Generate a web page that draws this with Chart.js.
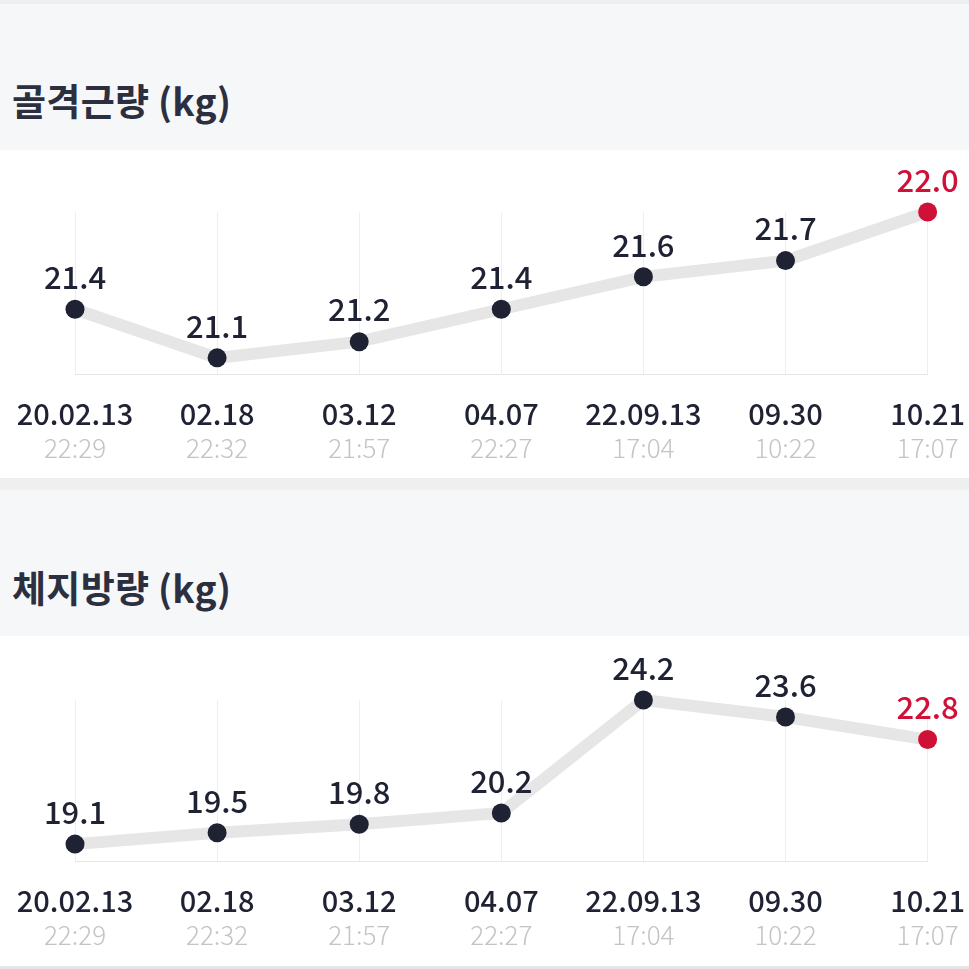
<!DOCTYPE html>
<html>
<head>
<meta charset="utf-8">
<script src="https://cdn.jsdelivr.net/npm/chart.js"></script>
<style>
  body { margin: 0; background: #fff; font-family: "Noto Sans CJK KR", sans-serif; }
  .band { position: absolute; left: 0; width: 969px; background: #f6f7f8; }
  .band h2 { position: absolute; left: 12px; margin: 0; font-size: 37px; font-weight: 700; color: #2b2f40; line-height: 1; letter-spacing: 0.3px; }
  .box { position: absolute; left: 0; width: 969px; background: #fff; }
</style>
</head>
<body>
<div class="band" style="top:0;height:150px;border-top:4px solid #eeeeee;box-sizing:border-box;">
  <h2 id="title1" style="top:78px;"></h2>
</div>
<div class="box" style="top:150px;height:328px;"><canvas id="muscleChart"></canvas></div>
<div class="band" style="top:478px;height:158px;border-top:12px solid #efefef;box-sizing:border-box;">
  <h2 id="title2" style="top:79px;"></h2>
</div>
<div class="box" style="top:636px;height:329px;"><canvas id="fatChart"></canvas></div>
<div style="position:absolute;left:0;top:966px;width:969px;height:3px;background:#e6e6e6;"></div>

<script>
// titles
var muscleTitle = "골격근량 (kg)";
var fatTitle = "체지방량 (kg)";

// x-axis labels: date on top, time underneath
var dates = ["20.02.13", "02.18", "03.12", "04.07", "22.09.13", "09.30", "10.21"];
var times = ["22:29", "22:32", "21:57", "22:27", "17:04", "10:22", "17:07"];

// measurements
var muscle = [21.4, 21.1, 21.2, 21.4, 21.6, 21.7, 22.0];
var fat = [19.1, 19.5, 19.8, 20.2, 24.2, 23.6, 22.8];

var dark = "#1f2233";
var red = "#cf1138";

document.getElementById("title1").textContent = muscleTitle;
document.getElementById("title2").textContent = fatTitle;

// value above each point + time under each date
var labelPlugin = {
  id: "pointLabels",
  afterDatasetsDraw: function(chart) {
    var ctx = chart.ctx;
    var meta = chart.getDatasetMeta(0);
    var values = chart.data.datasets[0].data;
    ctx.save();
    ctx.textAlign = "center";
    ctx.textBaseline = "middle";
    ctx.font = '500 31px "Noto Sans CJK KR"';
    meta.data.forEach(function(pt, i) {
      ctx.fillStyle = i === values.length - 1 ? red : dark;
      ctx.fillText(values[i].toFixed(1), pt.x, pt.y - 32);
    });
    var xs = chart.scales.x;
    ctx.font = '300 26px "Noto Sans CJK KR"';
    ctx.fillStyle = "#c4c4c4";
    times.forEach(function(t, i) {
      ctx.fillText(t, xs.getPixelForTick(i), chart.chartArea.bottom + 74);
    });
    ctx.restore();
  }
};

function makeChart(id, values, yMin, yMax, topPad) {
  var colors = values.map(function(v, i) { return i === values.length - 1 ? red : dark; });
  return new Chart(document.getElementById(id), {
    type: "line",
    data: {
      labels: dates,
      datasets: [{
        data: values,
        borderColor: "#e6e6e6",
        borderWidth: 12,
        tension: 0,
        pointRadius: 9.5,
        pointHoverRadius: 9.5,
        pointBackgroundColor: colors,
        pointBorderWidth: 0,
        clip: false
      }]
    },
    options: {
      responsive: true,
      maintainAspectRatio: false,
      animation: false,
      layout: { padding: { left: 75, right: 41, top: topPad, bottom: 24 } },
      plugins: { legend: { display: false }, tooltip: { enabled: false } },
      scales: {
        x: {
          grid: { color: "#eeeeee", drawTicks: false },
          border: { color: "#e6e6e6" },
          ticks: {
            color: dark,
            padding: 4,
            font: { family: "Noto Sans CJK KR", size: 29, weight: 500, lineHeight: 2.48 }
          }
        },
        y: { display: false, min: yMin, max: yMax }
      }
    },
    plugins: [labelPlugin]
  });
}

makeChart("muscleChart", muscle, 21.0, 22.0, 62);
makeChart("fatChart", fat, 18.5, 24.2, 64);
</script>
</body>
</html>
